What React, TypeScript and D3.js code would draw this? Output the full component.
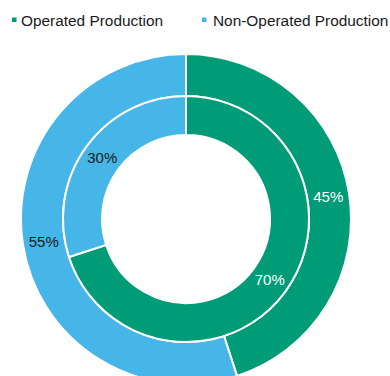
import React from "react";
import * as d3 from "d3";

const categories = ["Operated Production", "Non-Operated Production"];
const outerValues = [45, 55];
const innerValues = [70, 30];
const colors = ["#009B77", "#45B6E7"];
const labelColors = ["#ffffff", "#1a1a1a"];

const W = 390;
const H = 376;
const cx = 186;
const cy = 219;

export default function App() {
  const pie = d3.pie<number>().sort(null).value((d) => d);
  const outerArc = d3.arc<d3.PieArcDatum<number>>().innerRadius(123).outerRadius(165);
  const innerArc = d3.arc<d3.PieArcDatum<number>>().innerRadius(84).outerRadius(123);
  const rings = [
    { data: pie(outerValues), arc: outerArc },
    { data: pie(innerValues), arc: innerArc },
  ];
  return (
    <svg width={W} height={H} style={{ position: "absolute", left: 0, top: 0 }} fontFamily="'Liberation Sans', Arial, sans-serif">
      <g transform={`translate(${cx},${cy})`}>
        {rings.map((r, ri) =>
          r.data.map((d, i) => (
            <path key={`${ri}-${i}`} d={r.arc(d) || ""} fill={colors[i]} stroke="#fff" strokeWidth={2} />
          ))
        )}
        {rings.map((r, ri) =>
          r.data.map((d, i) => {
            const [x, y] = r.arc.centroid(d);
            return (
              <text key={`t${ri}-${i}`} x={x} y={y} dy="0.35em" textAnchor="middle" fontSize={15} fill={labelColors[i]}>
                {d.data}%
              </text>
            );
          })
        )}
      </g>
      <g>
        {categories.map((c, i) => {
          const x0 = i === 0 ? 12 : 202;
          return (
            <g key={c} transform={`translate(${x0},0)`}>
              <rect x={0} y={17.5} width={4.5} height={4.5} fill={colors[i]} />
              <text x={i === 0 ? 9 : 11} y={26} fontSize={15.4} fill="#1a1a1a">{c}</text>
            </g>
          );
        })}
      </g>
    </svg>
  );
}
